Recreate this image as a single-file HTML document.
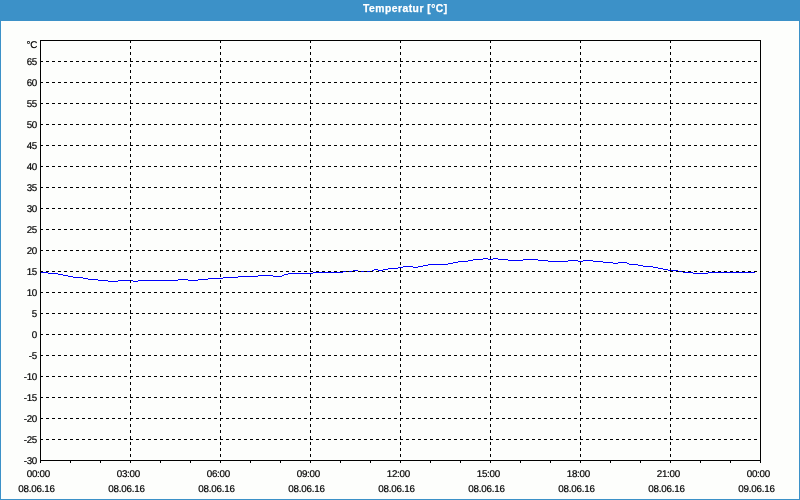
<!DOCTYPE html>
<html lang="de">
<head>
<meta charset="utf-8">
<title>Temperatur [°C]</title>
<style>
html,body{margin:0;padding:0;}
body{width:800px;height:500px;overflow:hidden;background:#fdfefc;position:relative;font-family:"Liberation Sans",Arial,sans-serif;color:#000;-webkit-text-stroke:0.2px #000;}
#frame{position:absolute;left:0;top:0;width:798px;height:478px;border:1px solid #3c91c8;border-top:21px solid #3c91c8;background:#fdfefc;}
#head{position:absolute;left:0;top:0;width:800px;height:20px;background:#3c91c8;color:#fff;text-align:left;font-weight:bold;font-size:10.3px;line-height:20px;white-space:nowrap;}
#head span{position:absolute;left:363px;top:-1px;letter-spacing:0.5px;-webkit-text-stroke:0.25px #fff;will-change:transform;}
svg{position:absolute;left:0;top:0;}
#labels{text-rendering:geometricPrecision;position:absolute;left:0;top:0;width:800px;height:500px;will-change:transform;}
.yl{position:absolute;left:0;width:37px;text-align:right;letter-spacing:-0.28px;font-size:9.8px;line-height:12px;height:12px;white-space:nowrap;}
.xt,.xd{position:absolute;width:60px;text-align:center;letter-spacing:-0.3px;font-size:9.8px;line-height:12px;height:12px;white-space:nowrap;}
.xt{top:469px;}
.xd{top:484px;letter-spacing:-0.22px;}
</style>
</head>
<body>
<div id="frame"></div>
<div id="head"><span>Temperatur [°C]</span></div>
<svg width="800" height="500" viewBox="0 0 800 500" shape-rendering="crispEdges" fill="none">
<path d="M41 272.5H48M48 273.5H58M58 274.5H63M63 275.5H68M68 276.5H73M73 277.5H83M83 278.5H88M88 279.5H98M98 280.5H108M108 281.5H118M118 280.5H133M133 281.5H138M138 280.5H178M178 279.5H188M188 280.5H198M198 279.5H208M208 278.5H223M223 277.5H238M238 276.5H258M258 275.5H273M273 276.5H282M282 275.5H284M284 274.5H288M288 273.5H313M313 272.5H343M343 271.5H353M353 270.5H358M358 271.5H372M372 270.5H374M374 269.5H378M378 270.5H383M383 269.5H388M388 268.5H398M398 267.5H403M403 266.5H413M413 267.5H418M418 266.5H423M423 265.5H428M428 264.5H448M448 263.5H453M453 262.5H458M458 261.5H468M468 260.5H473M473 259.5H483M483 258.5H488M488 259.5H493M493 258.5H498M498 259.5H508M508 260.5H523M523 259.5H538M538 260.5H548M548 261.5H568M568 260.5H578M578 261.5H583M583 260.5H593M593 261.5H603M603 262.5H613M613 263.5H618M618 262.5H627M627 263.5H629M629 264.5H638M638 265.5H643M643 266.5H653M653 267.5H658M658 268.5H663M663 269.5H668M668 270.5H678M678 271.5H683M683 272.5H693M693 273.5H708M708 272.5H755" stroke="#0000ff" stroke-width="1"/>
<path d="M40 61.5H760M40 82.5H760M40 103.5H760M40 124.5H760M40 145.5H760M40 166.5H760M40 187.5H760M40 208.5H760M40 229.5H760M40 250.5H760M40 271.5H760M40 292.5H760M40 313.5H760M40 334.5H760M40 355.5H760M40 376.5H760M40 397.5H760M40 418.5H760M40 439.5H760" stroke="#000" stroke-width="1" stroke-dasharray="3 3"/>
<path d="M130.5 40V460M220.5 40V460M310.5 40V460M400.5 40V460M490.5 40V460M580.5 40V460M670.5 40V460" stroke="#000" stroke-width="1" stroke-dasharray="3 3"/>
<path d="M40.5 460V463M70.5 460V463M100.5 460V463M130.5 460V463M160.5 460V463M190.5 460V463M220.5 460V463M250.5 460V463M280.5 460V463M310.5 460V463M340.5 460V463M370.5 460V463M400.5 460V463M430.5 460V463M460.5 460V463M490.5 460V463M520.5 460V463M550.5 460V463M580.5 460V463M610.5 460V463M640.5 460V463M670.5 460V463M700.5 460V463M730.5 460V463M760.5 460V463" stroke="#000" stroke-width="1"/>
<rect x="40.5" y="40.5" width="720" height="420" stroke="#000" stroke-width="1"/>
</svg>
<div id="labels">
<div class="yl" style="top:40px">°C</div>
<div class="yl" style="top:57px">65</div>
<div class="yl" style="top:78px">60</div>
<div class="yl" style="top:99px">55</div>
<div class="yl" style="top:120px">50</div>
<div class="yl" style="top:141px">45</div>
<div class="yl" style="top:162px">40</div>
<div class="yl" style="top:183px">35</div>
<div class="yl" style="top:204px">30</div>
<div class="yl" style="top:225px">25</div>
<div class="yl" style="top:246px">20</div>
<div class="yl" style="top:267px">15</div>
<div class="yl" style="top:288px">10</div>
<div class="yl" style="top:309px">5</div>
<div class="yl" style="top:330px">0</div>
<div class="yl" style="top:351px">-5</div>
<div class="yl" style="top:372px">-10</div>
<div class="yl" style="top:393px">-15</div>
<div class="yl" style="top:414px">-20</div>
<div class="yl" style="top:435px">-25</div>
<div class="yl" style="top:456px">-30</div>
<div class="xt" style="left:8.299999999999997px">00:00</div>
<div class="xd" style="left:6.5px">08.06.16</div>
<div class="xt" style="left:98.30000000000001px">03:00</div>
<div class="xd" style="left:96.5px">08.06.16</div>
<div class="xt" style="left:188.3px">06:00</div>
<div class="xd" style="left:186.5px">08.06.16</div>
<div class="xt" style="left:278.3px">09:00</div>
<div class="xd" style="left:276.5px">08.06.16</div>
<div class="xt" style="left:368.3px">12:00</div>
<div class="xd" style="left:366.5px">08.06.16</div>
<div class="xt" style="left:458.3px">15:00</div>
<div class="xd" style="left:456.5px">08.06.16</div>
<div class="xt" style="left:548.3px">18:00</div>
<div class="xd" style="left:546.5px">08.06.16</div>
<div class="xt" style="left:638.3px">21:00</div>
<div class="xd" style="left:636.5px">08.06.16</div>
<div class="xt" style="left:728.3px">00:00</div>
<div class="xd" style="left:726.5px">09.06.16</div>
</div>
</body>
</html>
